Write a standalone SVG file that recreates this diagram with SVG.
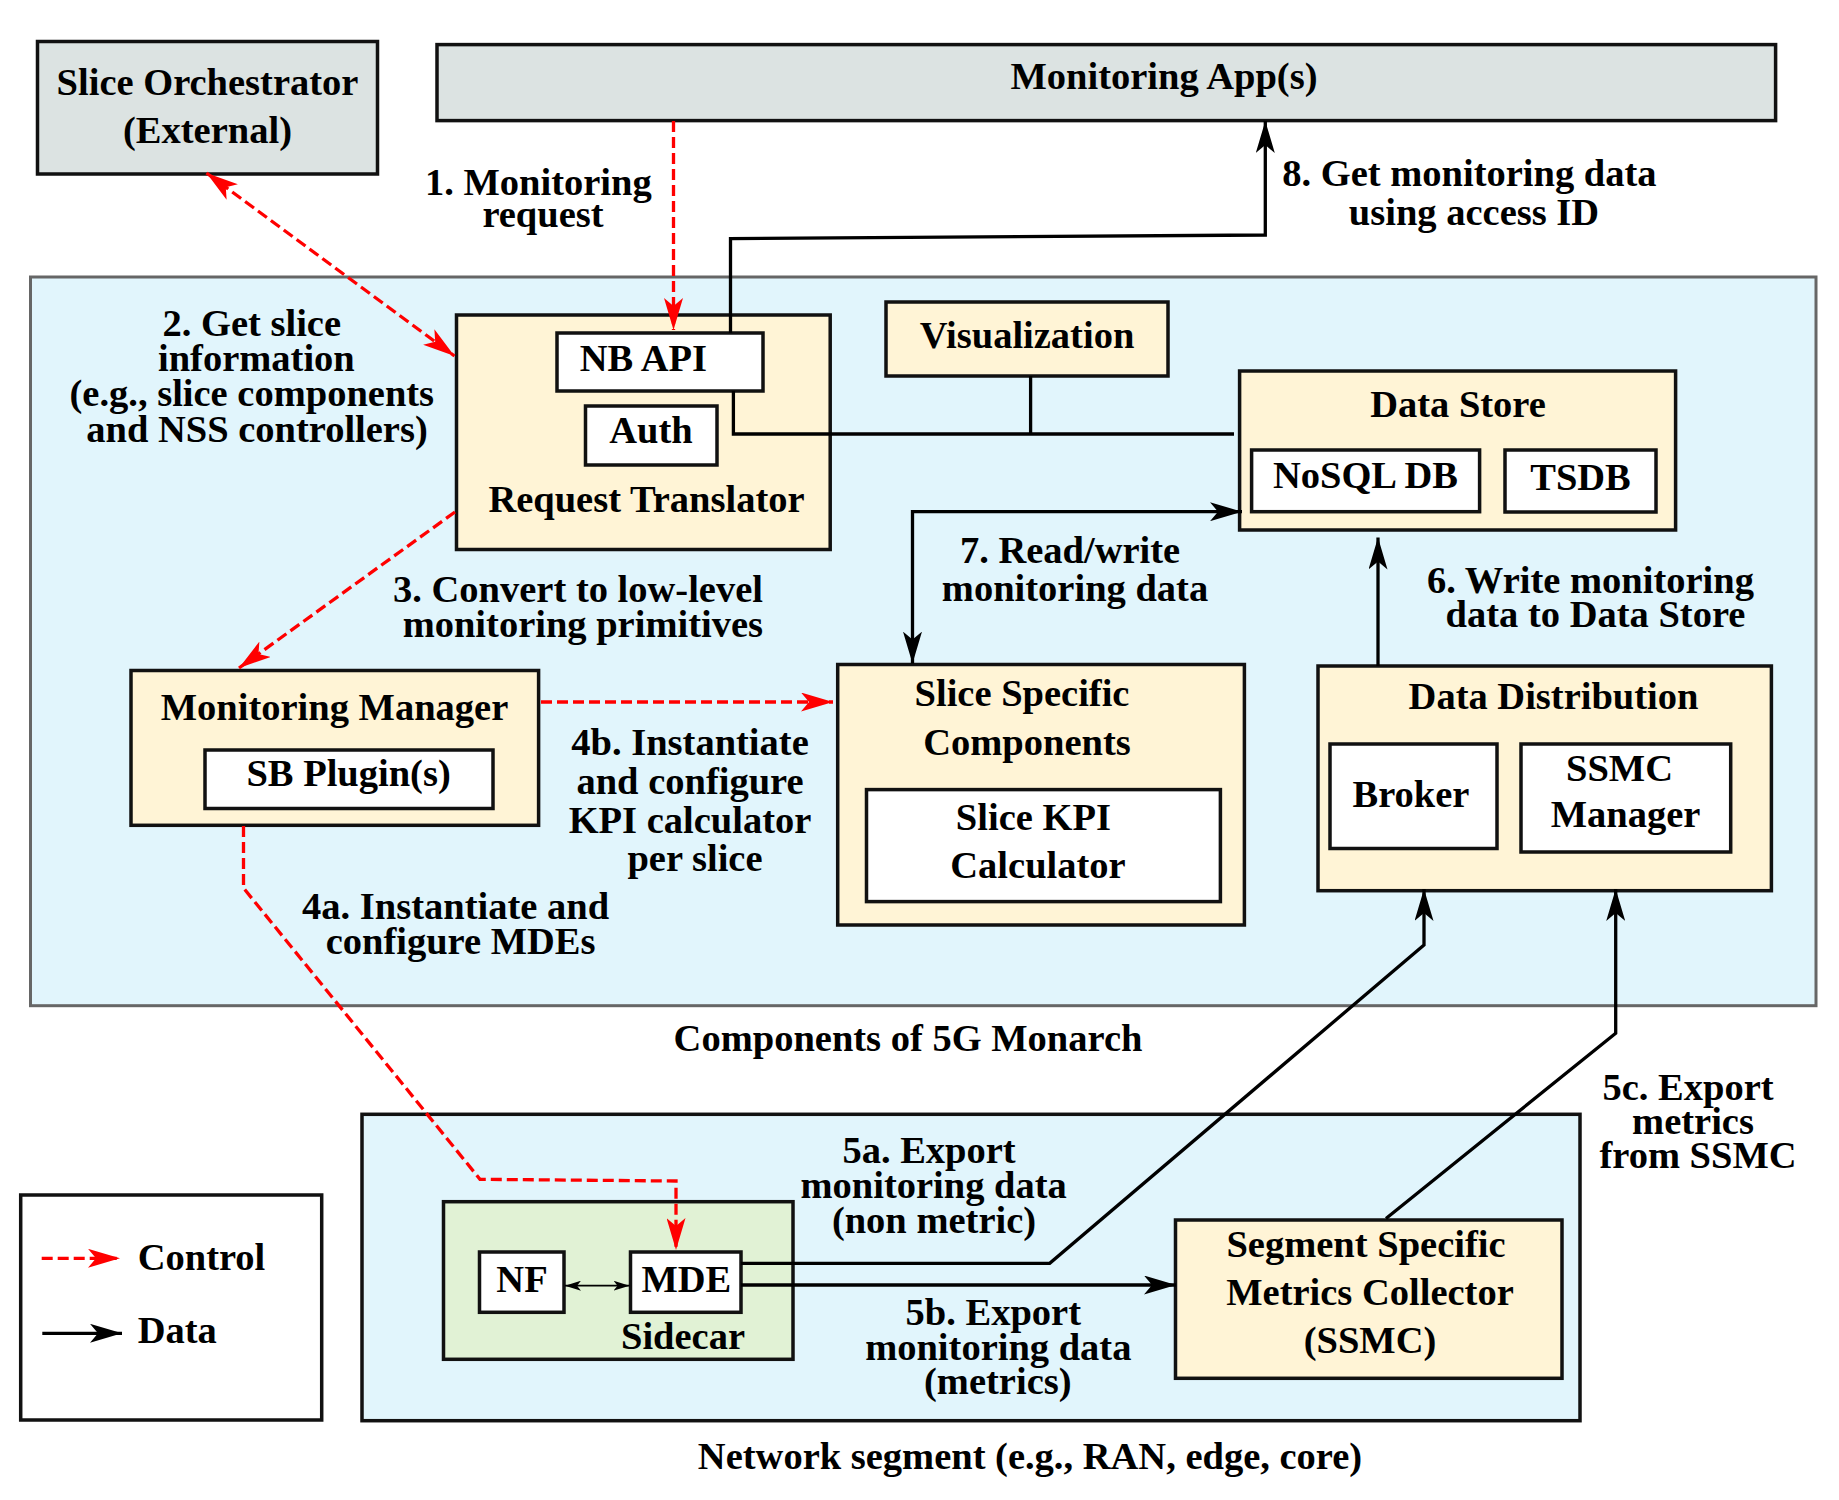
<svg xmlns="http://www.w3.org/2000/svg" width="1839" height="1500" viewBox="0 0 1839 1500">
<style>
text{font-family:"Liberation Serif","Times New Roman",serif;font-weight:bold;font-size:38.5px;fill:#000}
.m{text-anchor:middle}
.e{text-anchor:end}
.box{stroke:#111;stroke-width:3.5}
.gray{fill:#DCE3E2}
.cream{fill:#FFF4D6}
.white{fill:#fff}
.blue{fill:#E1F5FC}
.green{fill:#E1F2D5}
.ctl{fill:none;stroke:#FF0000;stroke-width:3.3;stroke-dasharray:11 5}
.dat{fill:none;stroke:#000;stroke-width:3.3}
</style>
<defs>
<marker id="ar" markerUnits="userSpaceOnUse" markerWidth="32" markerHeight="19" refX="32" refY="9.5" orient="auto-start-reverse" viewBox="0 0 32 19">
<path d="M0,0 L32,9.5 L0,19 L8,9.5 Z" fill="#FF0000"/>
</marker>
<marker id="ab" markerUnits="userSpaceOnUse" markerWidth="32" markerHeight="19" refX="32" refY="9.5" orient="auto-start-reverse" viewBox="0 0 32 19">
<path d="M0,0 L32,9.5 L0,19 L8,9.5 Z" fill="#000"/>
</marker>
<marker id="abs" markerUnits="userSpaceOnUse" markerWidth="16" markerHeight="10" refX="16" refY="5" orient="auto-start-reverse" viewBox="0 0 16 10">
<path d="M0,0 L16,5 L0,10 L4,5 Z" fill="#000"/>
</marker>
</defs>
<rect width="1839" height="1500" fill="#fff"/>

<g id="monarch-container">
<rect x="30.5" y="277" width="1785.5" height="728.7" class="blue" stroke="#666" stroke-width="3"/>
<text class="m" x="908" y="1051">Components of 5G Monarch</text>
</g>
<g id="network-segment">
<rect x="362" y="1114.3" width="1218" height="306.4" class="blue box"/>
<text class="m" x="1030" y="1469">Network segment (e.g., RAN, edge, core)</text>
</g>

<g id="slice-orchestrator">
<rect x="37.5" y="41.5" width="340" height="132.5" class="gray box"/>
<text class="m" x="207.5" y="94.6">Slice Orchestrator</text>
<text class="m" x="207.5" y="142.8">(External)</text>
</g>
<g id="monitoring-apps">
<rect x="437" y="44.6" width="1338.6" height="76" class="gray box"/>
<text class="m" x="1164" y="89.3">Monitoring App(s)</text>
</g>

<g id="request-translator">
<rect x="456.5" y="315" width="373.7" height="234.5" class="cream box"/>
<text class="m" x="646.5" y="511.5">Request Translator</text>
</g>
<g id="nb-api">
<rect x="557" y="333" width="206" height="58" class="white box"/>
<text x="579.7" y="371.4">NB API</text>
</g>
<g id="auth">
<rect x="585.5" y="406" width="131.5" height="59" class="white box"/>
<text class="m" x="651" y="442.9">Auth</text>
</g>
<g id="visualization">
<rect x="886" y="302" width="282" height="74" class="cream box"/>
<text class="m" x="1027" y="348.2">Visualization</text>
</g>
<g id="data-store">
<rect x="1239.6" y="371" width="436" height="159" class="cream box"/>
<text class="m" x="1458" y="417">Data Store</text>
</g>
<g id="nosql-db">
<rect x="1251.6" y="450" width="228" height="61.7" class="white box"/>
<text class="m" x="1365.5" y="488">NoSQL DB</text>
</g>
<g id="tsdb">
<rect x="1505" y="450" width="151" height="62" class="white box"/>
<text class="m" x="1580.5" y="490">TSDB</text>
</g>
<g id="monitoring-manager">
<rect x="131" y="670.5" width="407.6" height="154.8" class="cream box"/>
<text class="m" x="334.5" y="719.6">Monitoring Manager</text>
</g>
<g id="sb-plugins">
<rect x="205" y="750" width="288" height="58.5" class="white box"/>
<text class="m" x="348.6" y="785.7">SB Plugin(s)</text>
</g>
<g id="slice-specific-components">
<rect x="837.7" y="664.5" width="406.7" height="260.5" class="cream box"/>
<text class="m" x="1022" y="706.4">Slice Specific</text>
<text class="m" x="1027" y="754.6">Components</text>
</g>
<g id="slice-kpi-calculator">
<rect x="866.5" y="789.6" width="353.9" height="112" class="white box"/>
<text class="m" x="1033.4" y="830">Slice KPI</text>
<text class="m" x="1038" y="877.9">Calculator</text>
</g>
<g id="data-distribution">
<rect x="1318" y="666" width="453.4" height="224.7" class="cream box"/>
<text class="m" x="1553.5" y="709.2">Data Distribution</text>
</g>
<g id="broker">
<rect x="1330" y="744" width="167" height="104.5" class="white box"/>
<text class="m" x="1411" y="807.4">Broker</text>
</g>
<g id="ssmc-manager">
<rect x="1521" y="744" width="209.7" height="108" class="white box"/>
<text class="m" x="1619.5" y="780.6">SSMC</text>
<text class="m" x="1625.5" y="827">Manager</text>
</g>
<g id="sidecar">
<rect x="443.5" y="1201.7" width="349.5" height="157.6" class="green box"/>
<text class="m" x="683" y="1349">Sidecar</text>
</g>
<g id="nf">
<rect x="479.5" y="1252" width="84.5" height="60.3" class="white box"/>
<text class="m" x="522" y="1292.3">NF</text>
</g>
<g id="mde">
<rect x="630.5" y="1252" width="110.5" height="60.3" class="white box"/>
<text class="m" x="686.3" y="1292.3">MDE</text>
</g>
<g id="ssmc">
<rect x="1175.5" y="1220" width="386.5" height="158.3" class="cream box"/>
<text class="m" x="1366" y="1256.7">Segment Specific</text>
<text class="m" x="1370" y="1305">Metrics Collector</text>
<text class="m" x="1370" y="1353.3">(SSMC)</text>
</g>

<g id="legend">
<rect x="20.7" y="1195" width="301" height="225" class="white box"/>
<path d="M41.7,1258.3 H120" class="ctl" marker-end="url(#ar)"/>
<text x="137.7" y="1270">Control</text>
<path d="M42.3,1333.3 H122" class="dat" marker-end="url(#ab)"/>
<text x="137.7" y="1343.3">Data</text>
</g>

<g id="connectors">
<path d="M673.5,121 V330" class="ctl" marker-end="url(#ar)"/>
<path d="M206.5,173 L454.5,356" class="ctl" marker-start="url(#ar)" marker-end="url(#ar)"/>
<path d="M455,512 L239,668" class="ctl" marker-end="url(#ar)"/>
<path d="M541,702 H833" class="ctl" marker-end="url(#ar)"/>
<path d="M243.5,826 V888 L480,1179.3 L676,1181 V1250" class="ctl" marker-end="url(#ar)"/>
<path d="M730.5,333 V238.6 L1265.3,235 V121" class="dat" marker-end="url(#ab)"/>
<path d="M733.4,391 V434 H1234" class="dat"/>
<path d="M1030.6,376 V434" class="dat"/>
<path d="M912.5,663.6 V511.7 H1242" class="dat" marker-start="url(#ab)" marker-end="url(#ab)"/>
<path d="M1378,666 V537.5" class="dat" marker-end="url(#ab)"/>
<path d="M741,1263.3 H1049.7 L1424,945 V889" class="dat" marker-end="url(#ab)"/>
<path d="M741,1285 H1176" class="dat" marker-end="url(#ab)"/>
<path d="M1386,1218.5 L1615.7,1033.3 V889" class="dat" marker-end="url(#ab)"/>
<path d="M565,1285.7 H629.5" fill="none" stroke="#000" stroke-width="1.8" marker-start="url(#abs)" marker-end="url(#abs)"/>
</g>

<g id="labels">
<text class="m" x="538.3" y="194.6">1. Monitoring</text>
<text class="m" x="543" y="226.8">request</text>
<text class="m" x="1469.4" y="186">8. Get monitoring data</text>
<text class="m" x="1474" y="225">using access ID</text>
<text class="m" x="251.8" y="336.4">2. Get slice</text>
<text class="m" x="256.4" y="371.4">information</text>
<text class="m" x="251.8" y="406.4">(e.g., slice components</text>
<text class="m" x="257" y="441.8">and NSS controllers)</text>
<text class="e" x="763" y="602">3. Convert to low-level</text>
<text class="e" x="763" y="637">monitoring primitives</text>
<text class="m" x="1070" y="562.9">7. Read/write</text>
<text class="m" x="1075" y="601">monitoring data</text>
<text class="m" x="1590.5" y="593.2">6. Write monitoring</text>
<text class="m" x="1595.5" y="627.1">data to Data Store</text>
<text class="m" x="690" y="754.6">4b. Instantiate</text>
<text class="m" x="690" y="794">and configure</text>
<text class="m" x="690" y="833">KPI calculator</text>
<text class="m" x="695" y="870.7">per slice</text>
<text class="m" x="455.6" y="919.2">4a. Instantiate and</text>
<text class="m" x="460.6" y="953.8">configure MDEs</text>
<text class="m" x="929" y="1163.3">5a. Export</text>
<text class="m" x="933.7" y="1198.3">monitoring data</text>
<text class="m" x="934" y="1233.3">(non metric)</text>
<text class="m" x="993.3" y="1325">5b. Export</text>
<text class="m" x="998.3" y="1360">monitoring data</text>
<text class="m" x="997.8" y="1394">(metrics)</text>
<text class="m" x="1688" y="1100">5c. Export</text>
<text class="m" x="1693" y="1134.3">metrics</text>
<text class="m" x="1698" y="1168.3">from SSMC</text>
</g>
</svg>
